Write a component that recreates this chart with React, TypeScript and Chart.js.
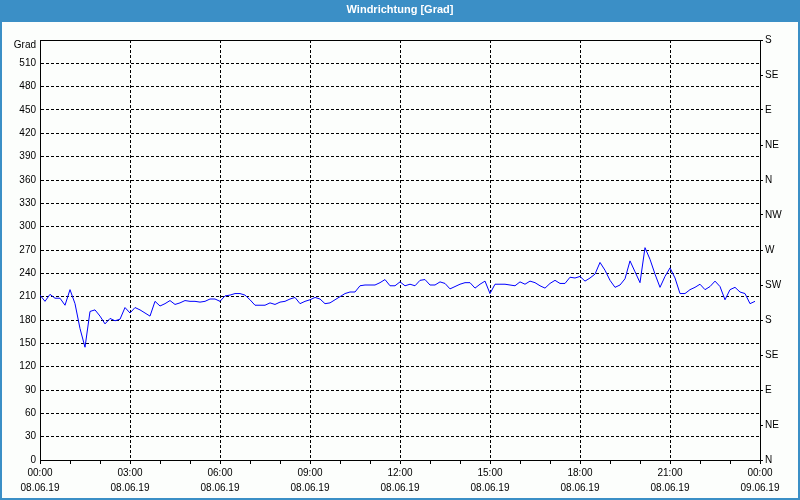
import React, { useEffect, useRef } from "react";
import { Chart, registerables } from "chart.js";

Chart.register(...registerables);

const titleText = "Windrichtung [Grad]";
const unitLabel = "Grad";
// wind direction every 10 minutes, 08.06.19 00:00 .. 23:50
const values: number[] = [
  212, 204, 213, 208, 208, 199, 219, 201, 169, 145,
  191, 193, 185, 175, 182, 179, 181, 196, 189, 196,
  193, 189, 185, 204, 198, 201, 205, 200, 202, 205,
  204, 204, 203, 204, 207, 207, 204, 211, 212, 214,
  214, 212, 206, 199, 199, 199, 202, 200, 203, 204,
  207, 209, 201, 204, 206, 209, 207, 201, 202, 206,
  210, 214, 216, 216, 224, 225, 225, 225, 228, 232,
  224, 224, 229, 224, 226, 224, 231, 232, 225, 225,
  229, 227, 220, 223, 226, 228, 228, 221, 226, 230,
  214, 226, 226, 226, 225, 224, 229, 226, 230, 228,
  224, 221, 227, 231, 227, 227, 235, 234, 236, 230,
  234, 239, 254, 244, 231, 222, 225, 233, 256, 242,
  228, 273, 258, 239, 222, 236, 247, 234, 214, 214,
  219, 222, 226, 219, 223, 230, 223, 206, 219, 222,
  216, 214, 201, 204,
];
const tickTimes = ["00:00", "03:00", "06:00", "09:00", "12:00", "15:00", "18:00", "21:00", "00:00"];
const tickDates = ["08.06.19", "08.06.19", "08.06.19", "08.06.19", "08.06.19", "08.06.19", "08.06.19", "08.06.19", "09.06.19"];
const dirLabels = ["N", "NE", "E", "SE", "S", "SW", "W", "NW", "N", "NE", "E", "SE", "S"];

const FONT = "'Liberation Sans', Arial, sans-serif";
const BLUE = "#3b8fc6";

export default function App() {
  const ref = useRef<HTMLCanvasElement | null>(null);
  useEffect(() => {
    document.body.style.margin = "0";
    const canvas = ref.current!;
    const points = values.map((v, i) => ({ x: (i * 10) / 60, y: v }));
    const frame = {
      id: "frame",
      beforeDraw(chart: any) {
        const c = chart.ctx;
        c.save();
        c.fillStyle = "#fcfefc";
        c.fillRect(0, 0, chart.width, chart.height);
        c.fillStyle = BLUE;
        c.fillRect(0, 0, chart.width, 20);
        c.fillStyle = "#ffffff";
        c.font = `bold 11px ${FONT}`;
        c.textAlign = "center";
        c.textBaseline = "middle";
        c.fillText(titleText, 400, 10);
        c.restore();
      },
      afterDraw(chart: any) {
        const c = chart.ctx;
        const a = chart.chartArea;
        c.save();
        c.setLineDash([]);
        c.strokeStyle = "#000";
        c.lineWidth = 1;
        c.beginPath();
        c.moveTo(a.left, Math.round(a.top) + 0.5);
        c.lineTo(a.right, Math.round(a.top) + 0.5);
        c.stroke();
        c.fillStyle = "#000";
        c.font = `10px ${FONT}`;
        c.textAlign = "right";
        c.textBaseline = "middle";
        c.fillText(unitLabel, a.left - 4, a.top + 5);
        c.strokeStyle = BLUE;
        c.lineWidth = 2;
        c.strokeRect(1, 21, chart.width - 2, chart.height - 22);
        c.restore();
      },
    };
    const chart = new Chart(canvas, {
      type: "line",
      data: {
        datasets: [
          {
            data: points,
            borderColor: "#0000ff",
            borderWidth: 1,
            pointRadius: 0,
            tension: 0,
            fill: false,
            yAxisID: "y",
          },
        ],
      },
      options: {
        responsive: false,
        animation: false,
        layout: { padding: { top: 40, left: 0, right: 0, bottom: 0 } },
        plugins: { legend: { display: false }, tooltip: { enabled: false }, title: { display: false } },
        scales: {
          x: {
            type: "linear",
            min: 0,
            max: 24,
            afterFit: (s: any) => { s.height = 40; },
            ticks: {
              stepSize: 1,
              autoSkip: false,
              maxRotation: 0,
              padding: 2,
              color: "#000",
              font: { family: FONT, size: 10, lineHeight: "15px" },
              callback: (v: any) => {
                const h = Number(v);
                if (h % 3 !== 0) return "";
                const k = h / 3;
                return [tickTimes[k], tickDates[k]];
              },
            },
            grid: {
              color: (ctx: any) => {
                const h = ctx.tick ? ctx.tick.value : 0;
                return h % 3 === 0 && h > 0 && h < 24 ? "#000" : "rgba(0,0,0,0)";
              },
              tickColor: "#000",
              tickLength: 4,
              tickBorderDash: [],
              lineWidth: 1,
            } as any,
            border: { display: true, color: "#000", width: 1, dash: [3, 2] },
          },
          y: {
            position: "left",
            min: 0,
            max: 540,
            afterFit: (s: any) => { s.width = 40; },
            ticks: {
              stepSize: 30,
              padding: 4,
              color: "#000",
              font: { family: FONT, size: 10 },
              callback: (v: any) => (Number(v) === 540 ? "" : String(v)),
            },
            grid: {
              drawTicks: false,
              color: (ctx: any) => {
                const v = ctx.tick ? ctx.tick.value : 0;
                return v > 0 && v < 540 ? "#000" : "rgba(0,0,0,0)";
              },
              lineWidth: 1,
            } as any,
            border: { display: true, color: "#000", width: 1, dash: [3, 2] },
          },
          y2: {
            position: "right",
            min: 0,
            max: 540,
            afterFit: (s: any) => { s.width = 40; },
            ticks: {
              stepSize: 45,
              padding: 2,
              color: "#000",
              font: { family: FONT, size: 10 },
              callback: (_v: any, i: number) => dirLabels[i],
            },
            grid: {
              drawOnChartArea: false,
              tickLength: 3,
              tickColor: "#000",
              color: "#000",
            },
            border: { display: true, color: "#000", width: 1 },
          },
        },
      },
      plugins: [frame],
    } as any);
    return () => chart.destroy();
  }, []);
  return (
    <div style={{ position: "absolute", left: 0, top: 0, width: 800, height: 500 }}>
      <canvas ref={ref} width={800} height={500} style={{ display: "block", width: 800, height: 500 }} />
    </div>
  );
}
